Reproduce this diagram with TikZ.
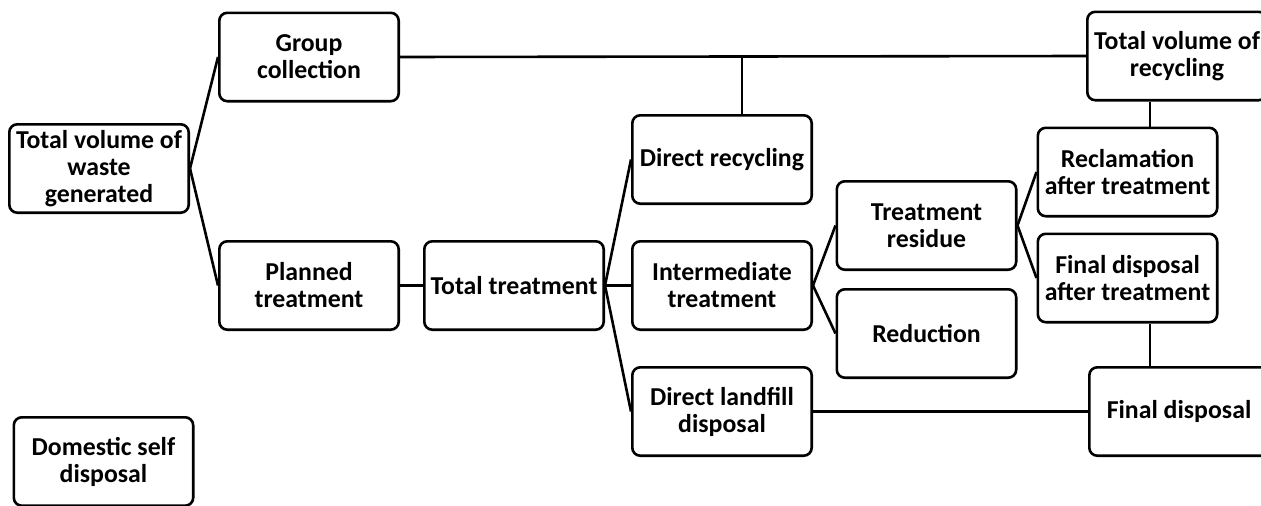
\documentclass[tikz,border=0pt]{standalone}
\usepackage{fontspec}
\setmainfont{Carlito}
\usepackage{tikz}
\usetikzlibrary{positioning}

\begin{document}
\begin{tikzpicture}[
        x=1pt, y=1pt,
        font=\fontsize{25.8}{27}\selectfont\bfseries,
        box/.style={rectangle, rounded corners=8pt, draw=black, line width=2.6pt, align=center, minimum width=179.4pt, minimum height=88.4pt, inner sep=1pt},
        link/.style={line width=2.6pt}
    ]
        \useasboundingbox (0,0) rectangle (1261,-506);

        \node[box] (waste) at (99,-168.5) {Total volume of\\waste\\generated};
        \node[box] (group) at (309,-57) {Group\\collection};
        \node[box] (planned) at (309,-285.5) {Planned\\treatment};
        \node[box] (domestic) at (103.5,-461.5) {Domestic self\\disposal};
        \node[box, right=23pt of planned] (total) {Total treatment};
        \node[box, right=26pt of total] (inter) {Intermediate\\treatment};
        \node[box, above=35pt of inter] (direct) {Direct recycling};
        \node[box, below=35pt of inter] (landfill) {Direct landfill\\disposal};
        \node[box] (residue) at (926.5,-225.5) {Treatment\\residue};
        \node[box, below=17pt of residue] (reduction) {Reduction};
        \node[box] (reclaim) at (1127.5,-172) {Reclamation\\after treatment};
        \node[box, below=15pt of reclaim] (finalafter) {Final disposal\\after treatment};
        \node[box] (recycling) at (1177,-56) {Total volume of\\recycling};
        \node[box] (final) at (1179,-411.5) {Final disposal};

        \coordinate (tapR) at (742,-57);
        \coordinate (tapC) at (1150,0);

        \draw[link] (waste.east) -- (group.west);
        \draw[link] (waste.east) -- (planned.west);
        \draw[link] (group.east) -- (recycling.west);
        \draw[link] (tapR |- direct.north) -- (tapR);
        \draw[link] (planned) -- (total);
        \draw[link] (total.east) -- (direct.west);
        \draw[link] (total.east) -- (inter.west);
        \draw[link] (total.east) -- (landfill.west);
        \draw[link] (inter.east) -- (residue.west);
        \draw[link] (inter.east) -- (reduction.west);
        \draw[link] (residue.east) -- (reclaim.west);
        \draw[link] (residue.east) -- (finalafter.west);
        \draw[link] (tapC |- recycling.south) -- (tapC |- reclaim.north);
        \draw[link] (tapC |- finalafter.south) -- (tapC |- final.north);
        \draw[link] (landfill.east) -- (final.west);
    \end{tikzpicture}
\end{document}
